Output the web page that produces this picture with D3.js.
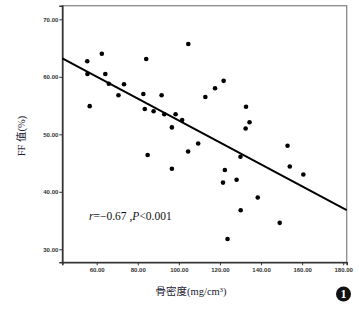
<!DOCTYPE html>
<html><head><meta charset="utf-8">
<script src="https://cdn.jsdelivr.net/npm/d3@7"></script>
<style>body{margin:0;background:#fff}svg{display:block}</style>
</head><body>
<svg id="c" width="359" height="310"></svg>
<script>
// Data: bone mineral density (mg/cm3) vs FF value (%)
const bmd = [55.4,55.5,56.6,62.5,64.2,65.9,70.6,73.3,84.1,82.7,83.4,87.7,91.6,92.9,96.6,98.4,84.8,96.6,104.6,121.8,117.6,112.9,132.7,101.6,134.4,132.5,109.4,104.5,152.9,130.0,154.0,160.6,122.4,121.5,128.1,138.4,130.1,149.1,123.7];
const ff  = [62.7,60.5,54.9,64.0,60.5,58.8,56.8,58.7,63.1,57.0,54.4,54.0,56.8,53.5,51.2,53.5,46.4,44.0,65.7,59.3,58.0,56.5,54.8,52.5,52.1,51.0,48.4,47.0,48.0,46.1,44.4,43.0,43.8,41.6,42.1,39.0,36.8,34.6,31.8];
const fitX = [43.3, 181.7];
const fitY = [63.2, 36.8];
const xTicks = [60,80,100,120,140,160,180];
const yTicks = [30,40,50,60,70];
const annotation = ["r", "=−0.67 ,", "P", "<0.001"];
const xTitle = "骨密度(mg/cm³)";
const yTitle = "FF 值(%)";
const badge = "1";

const svg = d3.select("#c");
const L=62.3, R=346.7, T=5.7, B=262.3;
const x = d3.scaleLinear().domain([43.26,181.7]).range([L,R]);
const y = d3.scaleLinear().domain([27.74,72.37]).range([B,T]);

// frame
svg.append("rect").attr("x",L).attr("y",T).attr("width",R-L).attr("height",B-T)
  .attr("fill","none").attr("stroke","#8a8a8a").attr("stroke-width",1.3);

// axes
const fmt = d3.format(".2f");
const gx = svg.append("g").attr("transform",`translate(0,${B})`)
  .call(d3.axisBottom(x).tickValues(xTicks).tickFormat(fmt).tickSize(3).tickPadding(2));
const gy = svg.append("g").attr("transform",`translate(${L},0)`)
  .call(d3.axisLeft(y).tickValues(yTicks).tickFormat(fmt).tickSize(3).tickPadding(1));
[gx,gy].forEach(g=>{
  g.select(".domain").attr("stroke","#333").attr("stroke-width",1.6);
  g.selectAll(".tick line").attr("stroke","#333").attr("stroke-width",1);
  g.selectAll(".tick text").attr("font-family","Liberation Sans, Arial, sans-serif")
    .attr("font-size",6).attr("fill","#333").attr("font-weight","bold");
});

// fit line
svg.append("line").attr("x1",x(fitX[0])).attr("y1",y(fitY[0]))
  .attr("x2",x(fitX[1])).attr("y2",y(fitY[1]))
  .attr("stroke","#000").attr("stroke-width",2);

// points
svg.append("g").selectAll("circle").data(bmd.map((v,i)=>[v,ff[i]])).join("circle")
  .attr("cx",d=>x(d[0])).attr("cy",d=>y(d[1])).attr("r",2.3).attr("fill","#000");

// annotation
const t = svg.append("text").attr("x",89).attr("y",220)
  .attr("font-family","Liberation Serif, Times New Roman, serif").attr("font-size",11.5).attr("fill","#111");
annotation.forEach((s,i)=>t.append("tspan").text(s).attr("font-style", (i%2===0)?"italic":"normal"));

// axis titles
svg.append("text").attr("x",191).attr("y",295).attr("text-anchor","middle")
  .attr("font-family","Liberation Serif, Noto Sans CJK SC, serif").attr("font-size",10.5).attr("fill","#223")
  .text(xTitle);
svg.append("text").attr("transform","translate(25,136) rotate(-90)").attr("text-anchor","middle")
  .attr("font-family","Liberation Serif, Noto Sans CJK SC, serif").attr("font-size",10.5).attr("fill","#223")
  .text(yTitle);

// badge
svg.append("circle").attr("cx",343.5).attr("cy",294).attr("r",7.5).attr("fill","#111");
svg.append("text").attr("x",343.5).attr("y",298).attr("text-anchor","middle")
  .attr("font-family","Liberation Serif, serif").attr("font-weight","bold").attr("font-size",12).attr("fill","#fff").text(badge);
</script>
</body></html>
